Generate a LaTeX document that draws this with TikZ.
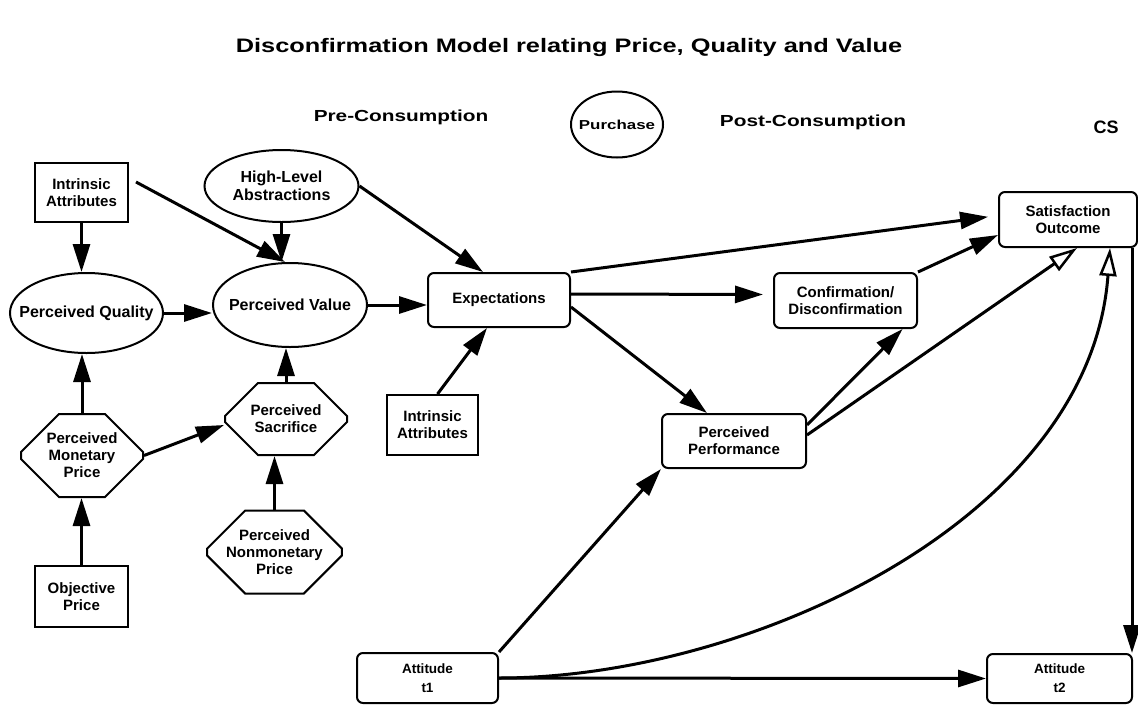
\documentclass[tikz,border=0pt]{standalone}
\usepackage{fontspec}
\setmainfont{Liberation Sans}
\newfontfamily\widefont{Liberation Sans}[FakeStretch=1.3]
\usetikzlibrary{arrows.meta,shapes.geometric,shapes.misc}
\tikzset{
  lbl/.style={font=\bfseries\fontsize{15}{17}\selectfont, align=center},
  biglbl/.style={font=\bfseries\fontsize{16}{18}\selectfont, align=center},
  head/.style={font=\widefont\bfseries\fontsize{16}{18}\selectfont},
  attlbl/.style={font=\bfseries\fontsize{13.5}{19}\selectfont},
  sqbox/.style={draw, line width=2pt, inner sep=0pt, lbl},
  rbox/.style={sqbox, rounded corners=6pt},
  oval/.style={draw, ellipse, line width=2pt, inner sep=0pt},
  octa/.style={draw, chamfered rectangle, chamfered rectangle xsep=19pt,
               chamfered rectangle ysep=19pt, line width=2pt, inner sep=0pt, lbl},
  arr/.style={line width=3pt, -{Triangle[length=28pt,width=17pt]}},
  oarr/.style={line width=3pt, -{Triangle[open,length=28pt,width=17pt,line width=2.5pt]}},
}
\begin{document}
\begin{tikzpicture}[x=1pt,y=-1pt]
\fill[white] (0,0) rectangle (1138,705);
\useasboundingbox (0,0) rectangle (1138,705);

% headings
\node[font=\widefont\bfseries\fontsize{19.5}{22}\selectfont] (title) at (569,47) {Disconfirmation Model relating Price, Quality and Value};
\node[head] (pre) at (401,117) {Pre-Consumption};
\node[oval, minimum width=92pt, minimum height=66pt,
      label={[font=\widefont\bfseries\fontsize{13}{15}\selectfont]center:Purchase}] (purch) at (617,124.5) {};
\node[head] (post) at (813,122) {Post-Consumption};
\node[font=\bfseries\fontsize{18}{20}\selectfont] (cs) at (1106,127) {CS};

% pre-consumption constructs
\node[sqbox, minimum width=93pt, minimum height=59pt] (ia1) at (81.5,192.5) {Intrinsic\\Attributes};
\node[oval, minimum width=154pt, minimum height=72pt,
      label={[biglbl]center:High-Level\\Abstractions}] (hla) at (281.5,186) {};
\node[oval, minimum width=153pt, minimum height=80pt,
      label={[biglbl]center:Perceived Quality}] (pq) at (86.5,313) {};
\node[oval, minimum width=154pt, minimum height=84pt,
      label={[biglbl]center:Perceived Value}] (pv) at (290,305) {};
\node[octa, minimum width=122pt, minimum height=72pt] (ps) at (286,419) {Perceived\\Sacrifice};
\node[octa, minimum width=122pt, minimum height=71pt] (pmp) at (82,455.5) {Perceived\\Monetary\\Price};
\node[sqbox, minimum width=93pt, minimum height=61pt] (op) at (81.5,596.5) {Objective\\Price};
\node[octa, minimum width=123pt, minimum height=70pt] (pnp) at (274.5,552) {Perceived\\Nonmonetary\\Price};
\node[sqbox, minimum width=91pt, minimum height=60pt] (ia2) at (432.5,425) {Intrinsic\\Attributes};
\node[rbox, minimum width=142pt, minimum height=54pt] (exp) at (499,300) {Expectations};

% post-consumption constructs
\node[rbox, minimum width=143pt, minimum height=55pt] (conf) at (845.5,300.5) {Confirmation/\\Disconfirmation};
\node[rbox, minimum width=138pt, minimum height=55pt] (so) at (1068,219.5) {Satisfaction\\Outcome};
\node[rbox, minimum width=144pt, minimum height=54pt] (pp) at (734,441) {Perceived\\Performance};
\node[rbox, attlbl, minimum width=141pt, minimum height=50pt] (t1) at (427.5,678) {Attitude\\t1};
\node[rbox, attlbl, minimum width=145pt, minimum height=49pt] (t2) at (1059.5,678.5) {Attitude\\t2};

% links among pre-consumption constructs
\draw[arr] (ia1.south) -- (ia1.south |- pq.north);
\draw[arr] ([shift={(7,20)}]ia1.north east) -- ([xshift=-5pt]pv.north);
\draw[arr] (hla.south) -- (hla.south |- pv.north);
\draw[arr] (pq.east) -- (pq.east -| pv.west);
\draw[arr] (pv.east) -- (pv.east -| exp.west);
\draw[arr] (ps.north) -- (ps.north |- pv.south);
\draw[arr] (pmp.east) -- ([yshift=-6pt]ps.west);
\draw[arr] (pmp.north) -- (pmp.north |- pq.south);
\draw[arr] (op.north) -- (op.north |- pmp.south);
\draw[arr] (pnp.north) -- (pnp.north |- ps.south);
\draw[arr] (hla.east) -- ([xshift=-16pt]exp.north);
\draw[arr] ([xshift=5pt]ia2.north) -- ([xshift=-12pt]exp.south);

% links into post-consumption
\draw[arr, shorten >=10pt] (exp.north east) -- ([yshift=4pt]so.west);
\draw[arr, shorten >=10pt] ([yshift=6pt]exp.east) -- ([yshift=6pt]conf.west);
\draw[arr] ([yshift=-7pt]exp.east) -- ([xshift=-27pt]pp.north);
\draw[arr] (conf.north east) -- ([yshift=-15.5pt]so.west);
\draw[arr] ([yshift=16pt]pp.east) -- ([xshift=57pt]conf.south);
\draw[oarr] ([yshift=6pt]pp.east) -- ([xshift=9pt]so.south);
\draw[arr] (t1.north east) -- (pp.south west);
\draw[arr] (t1.east) -- (t2.west);
\draw[oarr] (t1.east) .. controls +(250,0) and +(-20,272) .. ([xshift=42pt]so.south);
\draw[arr] ([xshift=-6pt]so.south east) -- ([xshift=-1pt]t2.north east);
\end{tikzpicture}
\end{document}
